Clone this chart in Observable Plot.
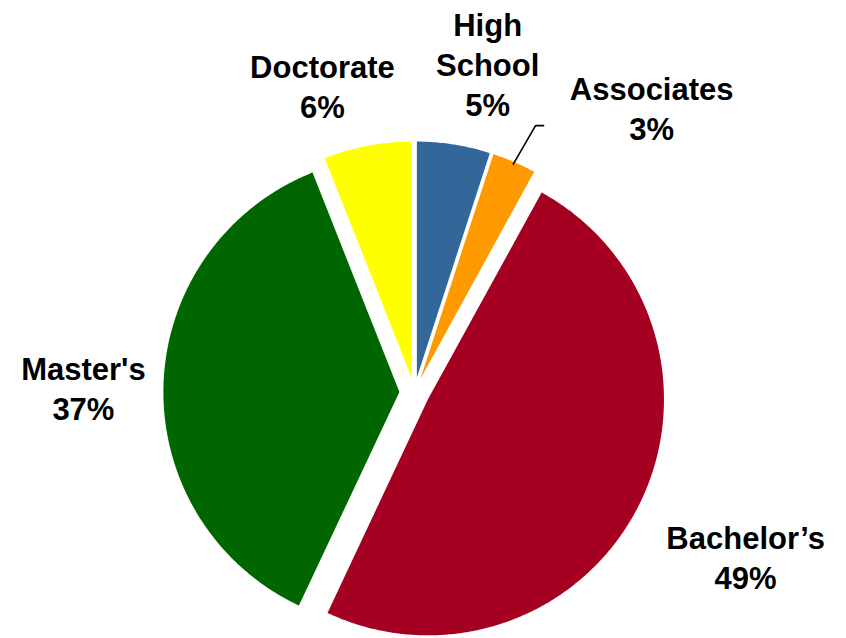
<!DOCTYPE html>
<html>
<head>
<meta charset="utf-8">
<script src="https://cdn.jsdelivr.net/npm/d3@7"></script>
<script src="https://cdn.jsdelivr.net/npm/@observablehq/plot@0.6"></script>
<style>
  html, body { margin: 0; padding: 0; background: #ffffff; }
  #chart { width: 846px; height: 638px; overflow: hidden; }
</style>
</head>
<body>
<div id="chart"></div>
<script>
// ---- data ----
const categories = ["High School", "Associates", "Bachelor’s", "Master's", "Doctorate"];
const shares = [5, 3, 49, 37, 6];
const labelNames = ["High\nSchool", "Associates", "Bachelor’s", "Master's", "Doctorate"];
const sliceColors = ["#336699", "#FF9900", "#A50021", "#006600", "#FFFF00"];

// ---- layout (pie units: radius = 1, centre = 0,0, y up) ----
const radiusPx = 236;
const centrePx = [414, 392];
const explode = 0.064;
const labelAnchors = [[0.31, 1.396], [1.005, 1.210], [1.403, -0.693], [-1.403, 0.024], [-0.39, 1.304]];
const leaderElbow = {index: 1, elbow: [0.513, 1.131], end: [0.547, 1.131]};

const W = 846, H = 638;

// slice geometry from the values via d3.pie (clockwise from 12 o'clock)
const arcs = d3.pie().sort(null).value(d => d)(shares);
const polyPoints = [];
arcs.forEach((a, i) => {
  const mid = (a.startAngle + a.endAngle) / 2;
  const ox = explode * Math.sin(mid), oy = explode * Math.cos(mid);
  polyPoints.push({key: i, x: ox, y: oy, color: sliceColors[i]});
  const steps = Math.max(4, Math.ceil((a.endAngle - a.startAngle) / (Math.PI / 360)));
  for (let k = 0; k <= steps; k++) {
    const t = a.startAngle + (a.endAngle - a.startAngle) * k / steps;
    polyPoints.push({key: i, x: ox + Math.sin(t), y: oy + Math.cos(t), color: sliceColors[i]});
  }
});

const labels = categories.map((c, i) => ({
  text: labelNames[i] + "\n" + shares[i] + "%",
  x: labelAnchors[i][0],
  y: labelAnchors[i][1]
}));

// leader line for the small slice
const la = arcs[leaderElbow.index];
const lmid = (la.startAngle + la.endAngle) / 2;
const lox = explode * Math.sin(lmid), loy = explode * Math.cos(lmid);
const leader = [
  {x: lox + Math.sin(lmid) * 0.99, y: loy + Math.cos(lmid) * 0.99},
  {x: leaderElbow.elbow[0], y: leaderElbow.elbow[1]},
  {x: leaderElbow.end[0], y: leaderElbow.end[1]}
];

const chart = Plot.plot({
  width: W,
  height: H,
  margin: 0,
  style: {background: "#ffffff"},
  x: {domain: [-centrePx[0] / radiusPx, (W - centrePx[0]) / radiusPx], range: [0, W], axis: null},
  y: {domain: [-(H - centrePx[1]) / radiusPx, centrePx[1] / radiusPx], range: [H, 0], axis: null},
  color: {type: "identity"},
  marks: [
    Plot.line(polyPoints, {x: "x", y: "y", z: "key", fill: "color", stroke: "none", curve: "linear-closed"}),
    Plot.line(leader, {x: "x", y: "y", stroke: "#000000", strokeWidth: 1.6, curve: "linear"}),
    Plot.text(labels, {
      x: "x", y: "y", text: "text",
      fontSize: 31, fontWeight: "bold",
      fontFamily: "'Liberation Sans', Arial, sans-serif",
      fill: "#000000", lineHeight: 1.29, textAnchor: "middle"
    })
  ]
});
document.getElementById("chart").appendChild(chart);
</script>
</body>
</html>
